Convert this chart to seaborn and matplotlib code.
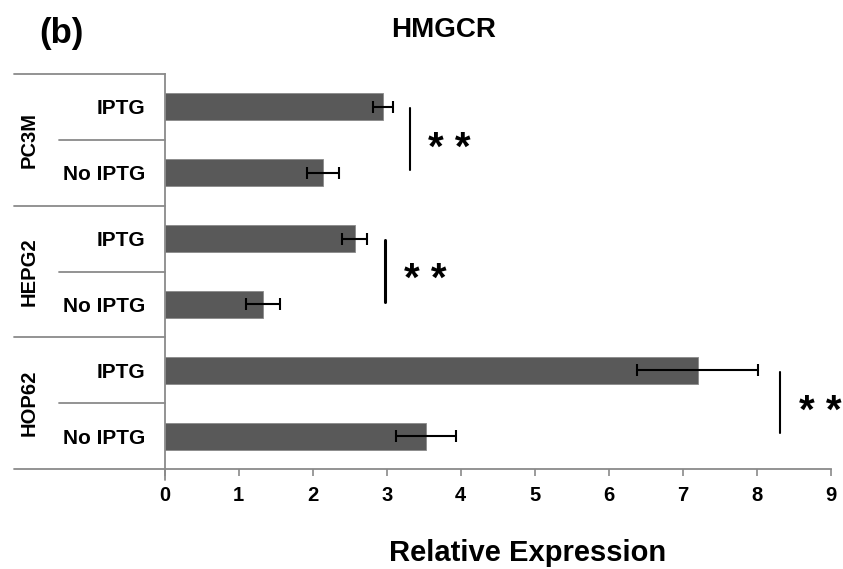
import matplotlib
matplotlib.use("Agg")
import matplotlib.pyplot as plt
import matplotlib.transforms as mtransforms
import seaborn as sns
import pandas as pd

# Data
cell_lines = ["PC3M", "HEPG2", "HOP62"]
treatments = ["IPTG", "No IPTG"]
means = [2.95, 2.14, 2.57, 1.33, 7.20, 3.53]
errors = [0.13, 0.22, 0.17, 0.23, 0.82, 0.41]
sig_x = [3.31, 2.98, 8.31]
sig_text = ["* *", "* *", "* *"]
x_ticks = list(range(0, 10))

sns.set_theme(style="white")
plt.rcParams["font.family"] = ["Liberation Sans", "DejaVu Sans"]
plt.rcParams["font.weight"] = "bold"
plt.rcParams["text.color"] = "black"
plt.rcParams["xtick.labelcolor"] = "black"
plt.rcParams["ytick.labelcolor"] = "black"

rows = [f"{c} {t}" for c in cell_lines for t in treatments]
df = pd.DataFrame({"row": rows, "value": means})

fig = plt.figure(figsize=(8.43, 5.69), dpi=100)
W, H = 843, 569
ax = fig.add_axes([164.5 / W, 1 - 469 / H, 666.5 / W, 395 / H])

sns.barplot(data=df, x="value", y="row", order=rows, orient="h",
            color="#595959", saturation=1, width=0.41, errorbar=None,
            edgecolor="#8a8a8a", linewidth=0.6, ax=ax)

# Error bars placed on the drawn bars
centers = [p.get_y() + p.get_height() / 2 for p in ax.patches]
ax.errorbar(means, centers, xerr=errors, fmt="none", ecolor="black",
            elinewidth=1.5, capsize=4.3, capthick=1.5, zorder=5)

ax.set_xlim(0, 9)
ax.set_ylim(5.5, -0.5)
ax.set_xticks(x_ticks)
ax.set_xticklabels([str(v) for v in x_ticks], fontsize=14.5,
                   fontweight="bold", color="black")
ax.set_yticks(range(len(rows)))
ax.set_yticklabels([t for _ in cell_lines for t in treatments],
                   fontsize=15, fontweight="bold", color="black")
ax.tick_params(axis="y", length=0, pad=14)
ax.tick_params(axis="x", length=5, width=1.2, color="#8a8a8a", pad=7,
               bottom=True, direction="out")
ax.set_xlabel("")
ax.set_ylabel("")

for s in ["top", "right"]:
    ax.spines[s].set_visible(False)
for s in ["left", "bottom"]:
    ax.spines[s].set_color("#8a8a8a")
    ax.spines[s].set_linewidth(1.3)

# Left-hand grouping lines
trans = mtransforms.blended_transform_factory(ax.transAxes, ax.transData)
x_outer = (14 - 164.5) / 666.5
x_inner = (59 - 164.5) / 666.5
for yb in [-0.5, 1.5, 3.5, 5.5]:
    ax.plot([x_outer, 0], [yb, yb], color="#8a8a8a", lw=1.3,
            transform=trans, clip_on=False)
for yb in [0.5, 2.5, 4.5]:
    ax.plot([x_inner, 0], [yb, yb], color="#8a8a8a", lw=1.3,
            transform=trans, clip_on=False)
ax.plot([0, 0], [5.5, 5.67], color="#8a8a8a", lw=1.3,
        transform=trans, clip_on=False)

x_group = (29 - 164.5) / 666.5
for i, name in enumerate(cell_lines):
    ax.text(x_group, 2 * i + 0.5, name, transform=trans, rotation=90,
            ha="center", va="center", fontsize=14.5, fontweight="bold",
            color="black")

# Significance brackets
sig_lw = [1.5, 2.2, 1.5]
for i, (sx, txt) in enumerate(zip(sig_x, sig_text)):
    y0, y1 = 2 * i + 0.02, 2 * i + 0.96
    ax.plot([sx, sx], [y0, y1], color="black", lw=sig_lw[i], clip_on=False)
    ax.text(sx + 0.54, 2 * i + 0.5 + 0.30, txt, ha="center", va="baseline",
            fontsize=29, fontweight="bold", color="black", clip_on=False)

fig.text(444 / W, 1 - 30 / H, "HMGCR", ha="center", va="center",
         fontsize=20, fontweight="bold", color="black")
fig.text(61 / W, 1 - 33 / H, "(b)", ha="center", va="center",
         fontsize=25, fontweight="bold", color="black")
fig.text(528 / W, 1 - 553 / H, "Relative Expression", ha="center",
         va="center", fontsize=21, fontweight="bold", color="black")

fig.savefig("out.png", dpi=100, facecolor="white")
